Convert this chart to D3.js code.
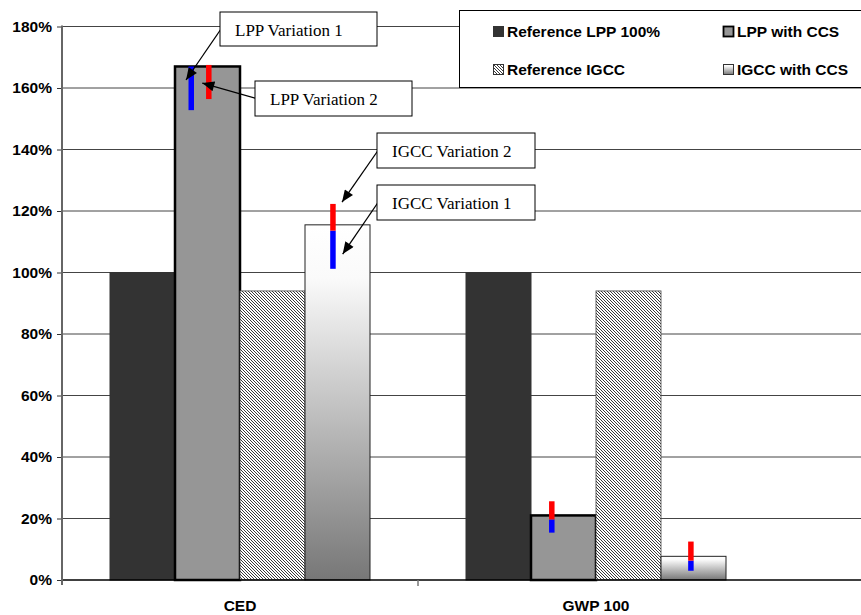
<!DOCTYPE html>
<html>
<head>
    <title>CED / GWP</title>
    <script src="https://d3js.org/d3.v7.min.js"></script>
    <style>
        body { margin: 0; background: #fff; }
        .tick-label, .cat-label, .legend-text {
            font-family: "Liberation Sans", Arial, sans-serif;
            font-weight: bold;
            font-size: 15.5px;
            fill: #000;
        }
        .note-text {
            font-family: "Liberation Serif", "Times New Roman", serif;
            font-size: 17px;
            fill: #000;
        }
        .grid-line { stroke: #444; stroke-width: 1; }
    </style>
</head>
<body>
<script>
    // chart values
    var categories = ["CED", "GWP 100"];
    var series = ["Reference LPP 100%", "LPP with CCS", "Reference IGCC", "IGCC with CCS"];
    var cedValues = [1.00, 1.67, 0.94, 1.155];
    var gwpValues = [1.00, 0.21, 0.94, 0.077];
    var yTicks = [0, 0.2, 0.4, 0.6, 0.8, 1.0, 1.2, 1.4, 1.6, 1.8];

    // variation ranges [low, high], one per category
    var lppVar1 = [[1.528, 1.670], [0.154, 0.197]];
    var lppVar2 = [[1.564, 1.675], [0.197, 0.256]];
    var igccVar1 = [[1.012, 1.136], [0.030, 0.063]];
    var igccVar2 = [[1.136, 1.223], [0.063, 0.125]];

    var width = 861, height = 615;
    var plotLeft = 62, plotRight = 774, plotTop = 26.5, plotBottom = 580;

    var svg = d3.select("body").append("svg")
        .attr("width", width)
        .attr("height", height);

    var defs = svg.append("defs");

    var grad = defs.append("linearGradient").attr("id", "igccGrad")
        .attr("x1", 0).attr("y1", 0).attr("x2", 0).attr("y2", 1);
    grad.append("stop").attr("offset", 0).attr("stop-color", "#ffffff");
    grad.append("stop").attr("offset", 0.15).attr("stop-color", "#fafafa");
    grad.append("stop").attr("offset", 1).attr("stop-color", "#777777");

    var hatch = defs.append("pattern").attr("id", "hatch")
        .attr("patternUnits", "userSpaceOnUse")
        .attr("width", 3).attr("height", 3);
    hatch.append("rect").attr("width", 3).attr("height", 3).attr("fill", "#fff");
    hatch.append("path")
        .attr("d", "M0,0 L3,3 M-1,2 L1,4 M2,-1 L4,1")
        .attr("stroke", "#3a3a3a").attr("stroke-width", 1);

    defs.append("marker").attr("id", "arrow")
        .attr("viewBox", "0 0 12 10")
        .attr("refX", 12).attr("refY", 5)
        .attr("markerWidth", 13).attr("markerHeight", 10)
        .attr("markerUnits", "userSpaceOnUse")
        .attr("orient", "auto")
        .append("path").attr("d", "M0,0 L12,5 L0,10 z").attr("fill", "#000");

    var x0 = d3.scaleBand().domain(categories).range([plotLeft, plotRight]);
    var x1 = d3.scaleBand().domain(series).range([48, 308]);
    var y = d3.scaleLinear().domain([0, 1.8]).range([plotBottom, plotTop]);

    var fills = {
        "Reference LPP 100%": "#333333",
        "LPP with CCS": "#969696",
        "Reference IGCC": "url(#hatch)",
        "IGCC with CCS": "url(#igccGrad)"
    };
    var strokes = {
        "Reference LPP 100%": ["#333333", 1],
        "LPP with CCS": ["#000", 2.5],
        "Reference IGCC": ["#444", 0.8],
        "IGCC with CCS": ["#222", 1]
    };

    // gridlines
    svg.append("g").selectAll("line")
        .data(yTicks.slice(1)).enter().append("line")
        .attr("class", "grid-line")
        .attr("x1", plotLeft).attr("x2", width)
        .attr("y1", function (d) { return y(d); })
        .attr("y2", function (d) { return y(d); });

    // bars
    var table = categories.map(function (c, i) {
        var vals = i === 0 ? cedValues : gwpValues;
        return series.map(function (s, j) { return { cat: c, series: s, value: vals[j] }; });
    });

    var groups = svg.append("g").selectAll("g")
        .data(table).enter().append("g")
        .attr("transform", function (d, i) { return "translate(" + x0(categories[i]) + ",0)"; });

    groups.selectAll("rect")
        .data(function (d) { return d; }).enter().append("rect")
        .attr("x", function (d) { return x1(d.series); })
        .attr("y", function (d) { return y(d.value); })
        .attr("width", x1.bandwidth())
        .attr("height", function (d) { return y(0) - y(d.value); })
        .attr("fill", function (d) { return fills[d.series]; })
        .attr("stroke", function (d) { return strokes[d.series][0]; })
        .attr("stroke-width", function (d) { return strokes[d.series][1]; });

    // variation markers (position inside bar as fraction of bar width)
    var markerSets = [
        { ranges: lppVar1, series: "LPP with CCS", color: "#0000ff", frac: [0.25, 0.32] },
        { ranges: lppVar2, series: "LPP with CCS", color: "#ff0000", frac: [0.52, 0.32] },
        { ranges: igccVar1, series: "IGCC with CCS", color: "#0000ff", frac: [0.43, 0.46] },
        { ranges: igccVar2, series: "IGCC with CCS", color: "#ff0000", frac: [0.43, 0.46] }
    ];
    var markerW = 5.5;
    markerSets.forEach(function (m) {
        svg.append("g").selectAll("rect")
            .data(m.ranges).enter().append("rect")
            .attr("x", function (d, i) {
                return x0(categories[i]) + x1(m.series) + m.frac[i] * x1.bandwidth() - markerW / 2;
            })
            .attr("y", function (d) { return y(d[1]); })
            .attr("width", markerW)
            .attr("height", function (d) { return y(d[0]) - y(d[1]); })
            .attr("fill", m.color);
    });

    // x axis
    svg.append("line")
        .attr("x1", plotLeft).attr("x2", width)
        .attr("y1", plotBottom).attr("y2", plotBottom)
        .attr("stroke", "#000").attr("stroke-width", 1.5);
    svg.append("line")
        .attr("x1", x0("GWP 100")).attr("x2", x0("GWP 100"))
        .attr("y1", plotBottom).attr("y2", plotBottom + 6)
        .attr("stroke", "#777").attr("stroke-width", 1.5);

    svg.append("g").selectAll("text")
        .data(categories).enter().append("text")
        .attr("class", "cat-label")
        .attr("text-anchor", "middle")
        .attr("x", function (d) { return x0(d) + x0.bandwidth() / 2; })
        .attr("y", 611)
        .text(function (d) { return d; });

    // y axis
    var yAxis = svg.append("g")
        .attr("transform", "translate(" + plotLeft + ",0)")
        .call(d3.axisLeft(y).tickValues(yTicks).tickSize(5).tickPadding(5).tickFormat(d3.format(".0%")));
    yAxis.select(".domain").remove();
    yAxis.selectAll(".tick line").attr("stroke", "#333");
    yAxis.selectAll(".tick text").attr("class", "tick-label").attr("font-family", null).attr("font-size", null);
    yAxis.attr("font-family", null).attr("font-size", null);
    svg.append("line")
        .attr("x1", plotLeft).attr("x2", plotLeft)
        .attr("y1", plotTop - 1).attr("y2", plotBottom + 5)
        .attr("stroke", "#666").attr("stroke-width", 2);

    // annotations
    var annotations = [
        { text: "LPP Variation 1", box: [220, 12, 157, 34], cat: "CED", series: "LPP with CCS", frac: 0.17, value: 1.626 },
        { text: "LPP Variation 2", box: [255, 81, 157, 35], cat: "CED", series: "LPP with CCS", frac: 0.42, value: 1.616 },
        { text: "IGCC Variation 2", box: [377, 133, 158, 35], cat: "CED", series: "IGCC with CCS", frac: 0.57, value: 1.229 },
        { text: "IGCC Variation 1", box: [377, 185, 158, 35], cat: "CED", series: "IGCC with CCS", frac: 0.58, value: 1.06 }
    ];
    var notes = svg.append("g").selectAll("g")
        .data(annotations).enter().append("g");
    notes.append("line")
        .attr("x1", function (d) { return d.box[0] + 1; })
        .attr("y1", function (d) { return d.box[1] + d.box[3] / 2; })
        .attr("x2", function (d) { return x0(d.cat) + x1(d.series) + d.frac * x1.bandwidth(); })
        .attr("y2", function (d) { return y(d.value); })
        .attr("stroke", "#000").attr("stroke-width", 1.3)
        .attr("marker-end", "url(#arrow)");
    notes.append("rect")
        .attr("x", function (d) { return d.box[0]; })
        .attr("y", function (d) { return d.box[1]; })
        .attr("width", function (d) { return d.box[2]; })
        .attr("height", function (d) { return d.box[3]; })
        .attr("fill", "#fff").attr("stroke", "#000").attr("stroke-width", 1);
    notes.append("text")
        .attr("class", "note-text")
        .attr("x", function (d) { return d.box[0] + 15; })
        .attr("y", function (d) { return d.box[1] + 24; })
        .text(function (d) { return d.text; });

    // legend
    var legend = svg.append("g");
    legend.append("rect")
        .attr("x", 459.5).attr("y", 10.5).attr("width", 420).attr("height", 77)
        .attr("fill", "#fff").attr("stroke", "#000").attr("stroke-width", 1);
    var legendPos = [[493, 26], [723, 26], [493, 64], [723, 64]];
    var legendOrder = ["Reference LPP 100%", "LPP with CCS", "Reference IGCC", "IGCC with CCS"];
    var items = legend.selectAll("g.item")
        .data(legendOrder).enter().append("g").attr("class", "item")
        .attr("transform", function (d, i) { return "translate(" + legendPos[i][0] + "," + legendPos[i][1] + ")"; });
    items.append("rect")
        .attr("x", 0.5).attr("y", 0.5).attr("width", 10).attr("height", 10)
        .attr("fill", function (d) { return fills[d]; })
        .attr("stroke", function (d) { return d === "LPP with CCS" ? "#000" : "#333"; })
        .attr("stroke-width", function (d) { return d === "LPP with CCS" ? 1.8 : 1; });
    items.append("text")
        .attr("class", "legend-text")
        .attr("x", 14).attr("y", 11)
        .text(function (d) { return d; });
</script>
</body>
</html>
